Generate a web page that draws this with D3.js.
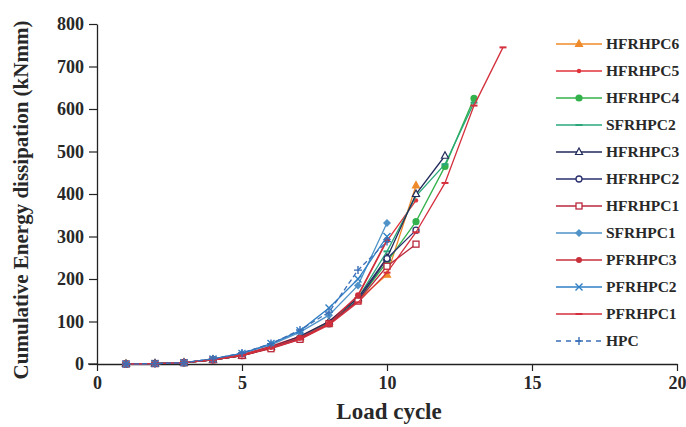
<!DOCTYPE html>
<html>
<head>
<meta charset="utf-8">
<script src="https://cdn.jsdelivr.net/npm/d3@7"></script>
<style>
body{margin:0;background:#fff;}
text{font-family:"Liberation Serif","DejaVu Serif",serif;font-weight:bold;fill:#282828;}
</style>
</head>
<body>
<script>
// data (cycle 1..n)
const cycles=d3.range(1,15);
const names=["HFRHPC6","HFRHPC5","HFRHPC4","SFRHPC2","HFRHPC3","HFRHPC2","HFRHPC1","SFRHPC1","PFRHPC3","PFRHPC2","PFRHPC1","HPC"];
const hfrhpc6=[0,1,3,10,20,38,60,95,150,210,420];
const hfrhpc5=[0,1,3,10,22,42,65,100,160,290,385];
const hfrhpc4=[0,1,3,10,20,38,60,95,150,240,335,465,625];
const sfrhpc2=[0,1,3,10,20,38,62,98,155,265,395,470,615];
const hfrhpc3=[0,1,3,10,20,40,65,100,155,250,400,490];
const hfrhpc2=[0,1,3,10,20,38,60,95,150,248,315];
const hfrhpc1=[0,1,3,10,20,36,58,95,148,230,282];
const sfrhpc1=[0,1,3,12,25,45,75,115,185,332];
const pfrhpc3=[0,1,3,10,22,40,62,95,162,292];
const pfrhpc2=[0,1,3,12,25,48,78,132,200,300];
const pfrhpc1=[0,1,3,10,20,38,58,92,145,215,310,426,608,745];
const hpc=[0,1,3,12,26,48,80,122,221,288];
const values=[hfrhpc6,hfrhpc5,hfrhpc4,sfrhpc2,hfrhpc3,hfrhpc2,hfrhpc1,sfrhpc1,pfrhpc3,pfrhpc2,pfrhpc1,hpc];
const colors=["#ef8a2a","#e0323a","#33b24c","#2aa87a","#222a5a","#2a2f6e","#b8283c","#4f93c8","#c9303c","#2f7fc4","#d42f3c","#3a6fb8"];
const markers=["triUp","dot","circle","dash","triOpen","circleOpen","square","diamond","circleFill","cross","dash","plus"];
const xTicks=[0,5,10,15,20];
const yTicks=[0,100,200,300,400,500,600,700,800];

const w=686,h=427;
const svg=d3.select("body").append("svg").attr("width",w).attr("height",h);

const x=d3.scaleLinear().domain([0,20]).range([97,677]);
const y=d3.scaleLinear().domain([0,800]).range([364,24]);

//axes
const xAxis=d3.axisBottom(x).tickValues(xTicks).tickSize(7).tickSizeOuter(0);
const yAxis=d3.axisLeft(y).tickValues(yTicks).tickSize(8).tickSizeOuter(0);
const gx=svg.append("g").attr("transform","translate(0,364)").call(xAxis);
const gy=svg.append("g").attr("transform","translate(97,0)").call(yAxis);
[gx,gy].forEach(g=>{
  g.select(".domain").attr("stroke","#222").attr("stroke-width",1.3);
  g.selectAll(".tick line").attr("stroke","#222").attr("stroke-width",1.2);
  g.selectAll(".tick text").style("font-size","18px").attr("fill","#282828");
});
gx.selectAll(".tick text").attr("dy","0.85em");
gy.selectAll(".tick text").attr("x",-13);
// little overhang of x axis at the origin
svg.append("line").attr("x1",88).attr("x2",97).attr("y1",364).attr("y2",364).attr("stroke","#222").attr("stroke-width",1.3);

svg.append("text").attr("x",389).attr("y",419).attr("text-anchor","middle").style("font-size","23px").text("Load cycle");
svg.append("text").attr("transform","translate(28,200) rotate(-90)").attr("text-anchor","middle").style("font-size","21px").text("Cumulative Energy dissipation (kNmm)");

function marker(g,type,c,px,py){
  const s=3;
  if(type==="triUp"||type==="triOpen"){
    g.append("path").attr("d",`M${px},${py-s-1}L${px+s+0.5},${py+s-0.5}L${px-s-0.5},${py+s-0.5}Z`)
      .attr("fill",type==="triUp"?c:"#fff").attr("stroke",c).attr("stroke-width",1.2);
  }else if(type==="circle"||type==="circleFill"){
    g.append("circle").attr("cx",px).attr("cy",py).attr("r",type==="circle"?3.6:3).attr("fill",c);
  }else if(type==="dot"){
    g.append("circle").attr("cx",px).attr("cy",py).attr("r",2.2).attr("fill",c);
  }else if(type==="circleOpen"){
    g.append("circle").attr("cx",px).attr("cy",py).attr("r",3).attr("fill","#fff").attr("stroke",c).attr("stroke-width",1.3);
  }else if(type==="square"){
    g.append("rect").attr("x",px-3).attr("y",py-3).attr("width",6).attr("height",6).attr("fill","#fff").attr("stroke",c).attr("stroke-width",1.3);
  }else if(type==="diamond"){
    g.append("path").attr("d",`M${px},${py-4}L${px+4},${py}L${px},${py+4}L${px-4},${py}Z`).attr("fill",c);
  }else if(type==="dash"){
    g.append("line").attr("x1",px-3.5).attr("x2",px+3.5).attr("y1",py).attr("y2",py).attr("stroke",c).attr("stroke-width",2);
  }else if(type==="cross"){
    g.append("path").attr("d",`M${px-3.5},${py-3.5}L${px+3.5},${py+3.5}M${px-3.5},${py+3.5}L${px+3.5},${py-3.5}`).attr("stroke",c).attr("stroke-width",1.4);
  }else if(type==="plus"){
    g.append("path").attr("d",`M${px-4},${py}L${px+4},${py}M${px},${py-4}L${px},${py+4}`).attr("stroke",c).attr("stroke-width",1.4);
  }
}

const line=d3.line().x((d,i)=>x(cycles[i])).y(d=>y(d));
const plot=svg.append("g");
values.forEach((vals,k)=>{
  const g=plot.append("g");
  g.append("path").attr("d",line(vals)).attr("fill","none").attr("stroke",colors[k]).attr("stroke-width",1.3)
    .attr("stroke-dasharray",names[k]==="HPC"?"5,3":null);
  vals.forEach((v,i)=>marker(g,markers[k],colors[k],x(cycles[i]),y(v)));
});

//legend
const leg=svg.append("g");
names.forEach((n,k)=>{
  const yy=44+k*27;
  leg.append("line").attr("x1",556).attr("x2",602).attr("y1",yy).attr("y2",yy).attr("stroke",colors[k]).attr("stroke-width",1.3)
    .attr("stroke-dasharray",n==="HPC"?"5,5":null);
  marker(leg,markers[k],colors[k],579,yy);
  leg.append("text").attr("x",606).attr("y",yy).attr("dy","0.35em").style("font-size","15.5px").text(n);
});
</script>
</body>
</html>
